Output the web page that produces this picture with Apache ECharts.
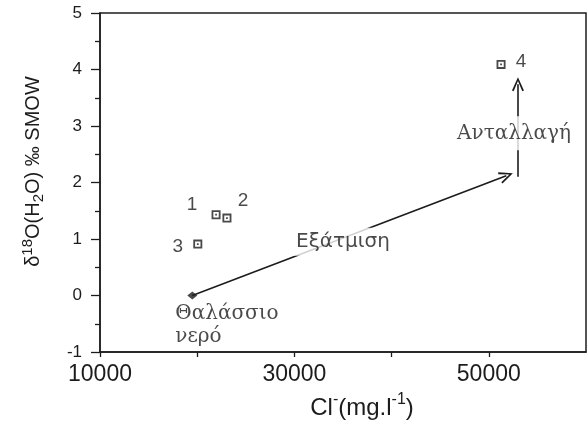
<!DOCTYPE html>
<html>
<head>
<meta charset="utf-8">
<script src="https://cdn.jsdelivr.net/npm/echarts@6/dist/echarts.min.js"></script>
<style>
html,body{margin:0;padding:0;background:#fff;}
#c{width:587px;height:428px;}
</style>
</head>
<body>
<div id="c"></div>
<script>
// ---- data ----
var sampleLabels = ['1', '2', '3', '4'];
var sampleCl = [21940, 23060, 20060, 51260];
var sampleD18O = [1.43, 1.37, 0.91, 4.09];

var seawaterCl = [19500];
var seawaterD18O = [0];
var seawaterLabel = 'Θαλάσσιο\nνερό';

var evapArrowStart = [19500, 0];
var evapArrowEnd = [51800, 2.12];
var exchArrowStart = [53000, 2.1];
var exchArrowEnd = [53000, 3.74];

var annotationText = ['Εξάτμιση', 'Ανταλλαγή'];
var annotationCl = [35000, 52600];
var annotationD18O = [0.95, 2.87];

var xTickLabels = ['10000', '30000', '50000'];

// ---- styles ----
var ink = '#1c1c1c';
var labelOffsets = [[-24, -10], [16, -17], [-20, 3], [20, -3]];
var openArrow = 'path://M0,12 L5,0 L10,12 L8.6,12.6 L5,3.4 L1.4,12.6 Z';
var boxSymbol = 'path://M0,0H10V10H0Z M2,2V8H8V2Z M4,4H6V6H4Z';

var chart = echarts.init(document.getElementById('c'), null, {renderer: 'canvas'});

var sampleData = sampleCl.map(function (x, i) {
  return {
    value: [x, sampleD18O[i]],
    label: {
      show: true,
      formatter: sampleLabels[i],
      position: 'inside',
      offset: labelOffsets[i],
      fontSize: 19,
      color: ink,
      fontFamily: 'Liberation Sans'
    }
  };
});

var annData = annotationText.map(function (t, i) {
  return {
    value: [annotationCl[i], annotationD18O[i]],
    label: {
      show: true,
      formatter: t,
      position: 'inside',
      fontSize: 20,
      fontFamily: i === 0 ? 'DejaVu Sans' : 'DejaVu Serif',
      color: ink,
      backgroundColor: '#fff',
      padding: i === 0 ? [4, 6] : [7, 2]
    }
  };
});

var option = {
  backgroundColor: '#fff',
  animation: false,
  grid: {
    left: 100, right: 1, top: 13, bottom: 76,
    show: true, borderColor: ink, borderWidth: 1.5, backgroundColor: 'transparent'
  },
  xAxis: {
    type: 'value',
    min: 10000, max: 60000, interval: 10000,
    name: '{n|Cl}{s|-}{n|(mg.l}{s|-1}{n|)}',
    nameLocation: 'middle',
    nameGap: 40,
    nameTextStyle: {
      color: ink, padding: [0, 0, 0, 38],
      rich: {
        n: {fontSize: 24, fontFamily: 'Liberation Sans', color: ink, lineHeight: 28, verticalAlign: 'bottom'},
        s: {fontSize: 16, fontFamily: 'Liberation Sans', color: ink, lineHeight: 28, verticalAlign: 'top'}
      }
    },
    axisLine: {onZero: false, lineStyle: {color: ink, width: 1.5}},
    axisTick: {show: true, inside: false, length: 5, lineStyle: {color: ink, width: 1.3}},
    axisLabel: {
      fontSize: 23, color: ink, fontFamily: 'Liberation Sans', margin: 11,
      showMaxLabel: false,
      formatter: function (v) {
        var s = String(v);
        return xTickLabels.indexOf(s) >= 0 ? s : '';
      }
    },
    splitLine: {show: false}
  },
  yAxis: {
    type: 'value',
    min: -1, max: 5, interval: 1,
    name: '{n|δ}{s|18}{n|O(H}{b|2}{n|O) ‰ SMOW}',
    nameLocation: 'middle',
    nameRotate: 90,
    nameGap: 54,
    nameTextStyle: {
      color: ink, padding: [0, 0, 0, 22],
      rich: {
        n: {fontSize: 20, fontFamily: 'Liberation Sans', color: ink, lineHeight: 26},
        s: {fontSize: 15, fontFamily: 'Liberation Sans', color: ink, lineHeight: 26, verticalAlign: 'top'},
        b: {fontSize: 15, fontFamily: 'Liberation Sans', color: ink, lineHeight: 26, verticalAlign: 'bottom'}
      }
    },
    axisLine: {onZero: false, lineStyle: {color: ink, width: 1.5}},
    axisTick: {show: true, inside: false, length: 9, lineStyle: {color: ink, width: 1.3}},
    minorTick: {show: true, splitNumber: 2, length: 5, lineStyle: {color: ink, width: 1.3}},
    axisLabel: {fontSize: 17, color: ink, fontFamily: 'Liberation Sans', margin: 18},
    splitLine: {show: false},
    minorSplitLine: {show: false}
  },
  series: [
    {
      type: 'scatter',
      z: 3,
      symbol: 'diamond',
      symbolSize: [10, 8],
      itemStyle: {color: ink},
      data: seawaterCl.map(function (x, i) {
        return {
          value: [x, seawaterD18O[i]],
          label: {
            show: true,
            formatter: seawaterLabel,
            position: 'inside',
            align: 'left',
            verticalAlign: 'top',
            offset: [-17, 7],
            lineHeight: 23,
            fontSize: 20,
            fontFamily: 'DejaVu Serif',
            color: ink
          }
        };
      }),
      markLine: {
        silent: true,
        symbol: ['none', openArrow],
        symbolSize: [12, 14],
        label: {show: false},
        lineStyle: {color: ink, width: 1.6, type: 'solid'},
        data: [
          [{coord: evapArrowStart}, {coord: evapArrowEnd}],
          [{coord: exchArrowStart}, {coord: exchArrowEnd}]
        ]
      }
    },
    {
      type: 'scatter',
      z: 6,
      symbolSize: 0,
      itemStyle: {color: 'transparent'},
      data: annData
    },
    {
      type: 'scatter',
      z: 7,
      symbol: boxSymbol,
      symbolSize: 9,
      itemStyle: {color: ink},
      data: sampleData
    }
  ]
};

chart.setOption(option);
</script>
</body>
</html>
